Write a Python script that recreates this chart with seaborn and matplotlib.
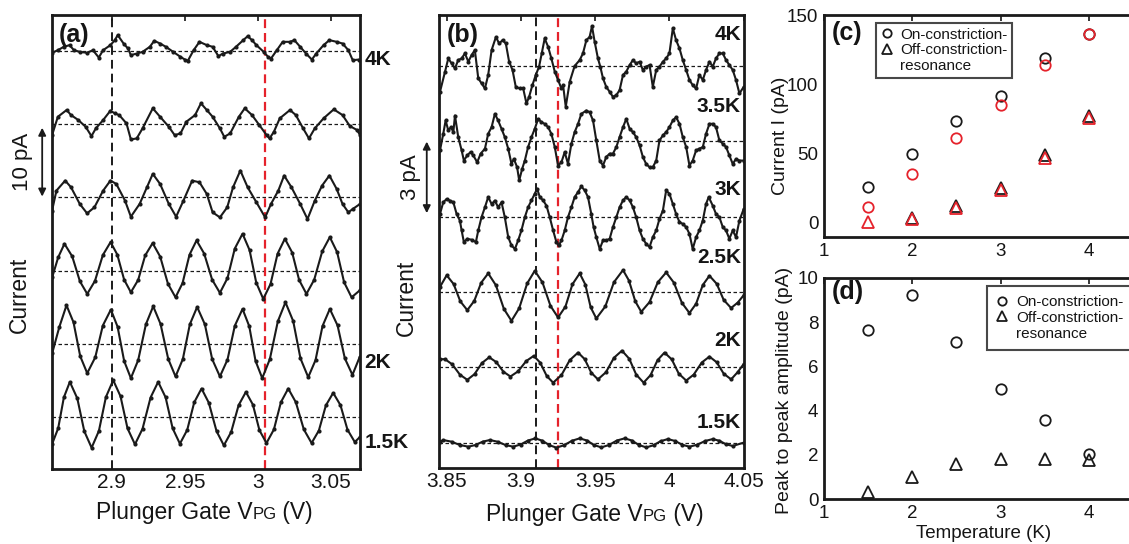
import numpy as np
import matplotlib
matplotlib.use("Agg")
import matplotlib.pyplot as plt
import matplotlib.transforms as mtransforms
from matplotlib.lines import Line2D
from matplotlib.offsetbox import TextArea, HPacker, AnchoredOffsetbox
import seaborn as sns

# ---------------- panel (a): plunger gate sweep 2.86 - 3.07 V ----------------
a4k_v = [2.859, 2.863, 2.867, 2.871, 2.874, 2.878, 2.883, 2.887, 2.891, 2.894, 2.899, 2.902, 2.904, 2.908,
         2.911, 2.913, 2.917, 2.921, 2.926, 2.929, 2.933, 2.937, 2.942, 2.947, 2.950, 2.952, 2.956, 2.960,
         2.965, 2.969, 2.973, 2.976, 2.981, 2.985, 2.990, 2.993, 2.996, 2.999, 3.004, 3.007, 3.009, 3.013,
         3.017, 3.022, 3.025, 3.029, 3.033, 3.037, 3.040, 3.045, 3.049, 3.054, 3.058, 3.062, 3.065, 3.069]
a4k_i = [-0.27, 0.09, 0.55, 0.78, 0.09, -0.14, -0.27, 0.09, -0.91, 0.09, 0.78, 1.46, 2.15, 1.0,
         0.32, -0.59, -0.37, -0.14, 0.55, 1.37, 1.0, 0.55, -0.14, -0.82, -1.19, -1.37, 0.09, 1.23,
         0.78, 0.55, -0.73, -0.37, -0.14, 0.55, 1.46, 2.0, 1.46, 0.78, -0.14, -0.82, -1.05, 0.09,
         1.23, 1.23, 1.46, 0.55, -0.37, -1.19, -0.37, 0.78, 1.46, 1.23, 1.0, 0.09, -1.28, -1.19]

a35k_v = [2.859, 2.863, 2.869, 2.872, 2.877, 2.882, 2.886, 2.889, 2.894, 2.899, 2.902, 2.905, 2.910, 2.913,
          2.917, 2.921, 2.928, 2.933, 2.939, 2.943, 2.947, 2.951, 2.957, 2.961, 2.965, 2.969, 2.974, 2.977,
          2.981, 2.987, 2.991, 2.996, 3.001, 3.006, 3.008, 3.011, 3.015, 3.022, 3.026, 3.031, 3.035, 3.039,
          3.045, 3.052, 3.058, 3.063, 3.068, 3.070]
a35k_i = [-1.51, 1.0, 1.92, 1.23, 0.55, -0.37, -1.64, -0.59, 0.55, 1.83, 1.46, 1.23, 0.09, -2.1,
          -1.96, -0.59, 2.15, 1.0, -0.37, -1.51, -1.28, 0.32, 1.23, 2.83, 1.92, 1.0, -0.59, -1.74,
          -1.28, 1.0, 2.15, 1.23, -0.14, -1.51, -1.96, -1.05, 0.78, 1.92, 1.23, -0.59, -1.96, -0.59,
          0.78, 2.01, 1.23, -0.27, -0.82, -1.51]

a3k_v = [2.859, 2.862, 2.868, 2.872, 2.878, 2.883, 2.888, 2.894, 2.899, 2.903, 2.909, 2.913, 2.919, 2.924,
         2.928, 2.933, 2.939, 2.944, 2.949, 2.955, 2.960, 2.965, 2.969, 2.974, 2.979, 2.983, 2.988, 2.993,
         2.999, 3.005, 3.009, 3.014, 3.018, 3.023, 3.029, 3.034, 3.039, 3.044, 3.049, 3.054, 3.058, 3.062,
         3.065, 3.070]
a3k_i = [-1.83, 0.91, 2.28, 1.37, -0.91, -2.19, -1.37, 0.91, 2.28, 1.83, -0.46, -2.65, -0.91, 1.37,
         3.2, 1.83, -0.91, -2.65, -0.46, 2.28, 2.05, 0.46, -2.05, -2.74, -1.37, 1.37, 3.65, 1.37,
         -0.68, -2.74, -0.91, 0.91, 2.97, 1.37, -0.91, -2.97, -0.46, 1.6, 2.97, 1.14, -0.91, -2.05,
         -1.6, -0.91]

a25k_v = [2.8591, 2.8632, 2.8675, 2.8728, 2.8781, 2.8831, 2.8884, 2.8938, 2.8991, 2.9037, 2.9084, 2.9130,
          2.9180, 2.9228, 2.9279, 2.9331, 2.9384, 2.9436, 2.9484, 2.9532, 2.9580, 2.9632, 2.9687, 2.9740,
          2.9792, 2.9842, 2.9895, 2.9943, 2.9989, 3.0037, 3.0087, 3.0135, 3.0185, 3.0235, 3.0283, 3.0333,
          3.0386, 3.0441, 3.0493, 3.0543, 3.0591, 3.0642, 3.0699]
a25k_i = [-0.92, 1.8, 3.65, 1.94, -1.48, -3.19, -1.42, 2.11, 3.88, 2.17, -1.26, -2.97,
          -1.29, 2.06, 3.74, 1.89, -1.81, -3.66, -1.72, 2.17, 4.11, 2.32, -1.26, -3.05,
          -1.03, 3.0, 5.02, 2.8, -1.66, -3.88, -1.83, 2.29, 4.34, 2.46, -1.31, -3.19,
          -1.25, 2.62, 4.56, 2.51, -1.61, -3.66, -2.7]

a2k_v = [2.8591, 2.8640, 2.8689, 2.8737, 2.8783, 2.8831, 2.8886, 2.8938, 2.8993, 2.9039, 2.9084, 2.9130,
         2.9180, 2.9233, 2.9283, 2.9333, 2.9386, 2.9436, 2.9486, 2.9534, 2.9584, 2.9637, 2.9687, 2.9740,
         2.9792, 2.9842, 2.9895, 2.9941, 2.9984, 3.0030, 3.0082, 3.0137, 3.0189, 3.0242, 3.0292, 3.0345,
         3.0395, 3.0443, 3.0493, 3.0546, 3.0596, 3.0648, 3.0699]
a2k_i = [-1.28, 2.3, 5.25, 2.93, -1.70, -4.02, -1.85, 2.49, 4.66, 2.32, -2.36, -4.70,
         -2.25, 2.66, 5.11, 2.72, -2.08, -4.47, -2.10, 2.65, 5.02, 2.65, -2.10, -4.47,
         -2.17, 2.45, 4.75, 2.39, -2.34, -4.70, -2.11, 3.07, 5.66, 3.10, -2.01, -4.57,
         -2.24, 2.42, 4.75, 2.5, -2.0, -4.25, -1.74]

a15k_v = [2.8591, 2.8632, 2.8671, 2.8712, 2.8763, 2.8811, 2.8861, 2.8911, 2.8959, 2.9009, 2.9059, 2.9107,
          2.9158, 2.9210, 2.9265, 2.9317, 2.9368, 2.9416, 2.9466, 2.9516, 2.9564, 2.9614, 2.9664, 2.9717,
          2.9767, 2.9817, 2.9868, 2.9918, 2.9966, 3.0011, 3.0059, 3.0110, 3.0158, 3.0208, 3.0260, 3.0315,
          3.0368, 3.0418, 3.0466, 3.0516, 3.0566, 3.0614, 3.0664, 3.0699]
a15k_i = [-3.65, -1.54, 2.68, 4.79, 2.54, -1.95, -4.20, -1.90, 2.72, 5.02, 2.83, -1.55,
          -3.74, -1.61, 2.66, 4.79, 2.68, -1.54, -3.65, -1.77, 2.0, 3.88, 1.94, -1.94,
          -3.88, -2.06, 1.6, 3.42, 1.68, -1.82, -3.56, -1.70, 2.02, 3.88, 2.02, -1.70,
          -3.56, -1.85, 1.58, 3.29, 1.61, -1.74, -3.42, -2.74]

a_offsets = [57.1, 47.1, 37.1, 27.1, 17.1, 7.1]   # pA, 4K on top
a_lines = [2.9, 3.005]

# ---------------- panel (b): plunger gate sweep 3.845 - 4.05 V ----------------
b4k_v = [3.8453, 3.8487, 3.8509, 3.8531, 3.8554, 3.8576, 3.8599, 3.8621, 3.8644, 3.8666, 3.8688, 3.8711,
         3.8733, 3.8756, 3.8778, 3.8801, 3.8830, 3.8852, 3.8875, 3.8897, 3.8919, 3.8942, 3.8964, 3.8991,
         3.9014, 3.9036, 3.9054, 3.9076, 3.9099, 3.9121, 3.9139, 3.9159, 3.9182, 3.9204, 3.9227, 3.9249,
         3.9272, 3.9283, 3.9301, 3.9328, 3.9361, 3.9395, 3.9417, 3.9440, 3.9462, 3.9478, 3.9496, 3.9518,
         3.9534, 3.9552, 3.9574, 3.9597, 3.9619, 3.9642, 3.9664, 3.9687, 3.9709, 3.9732, 3.9754, 3.9776,
         3.9799, 3.9821, 3.9843, 3.9866, 3.9888, 3.9911, 3.9933, 3.9956, 3.9978, 4.0000, 4.0023, 4.0045,
         4.0068, 4.0090, 4.0113, 4.0135, 4.0157, 4.0180, 4.0202, 4.0225, 4.0247, 4.0270, 4.0292, 4.0314,
         4.0337, 4.0360, 4.0382, 4.0404, 4.0427, 4.0449, 4.0472, 4.0501]
b4k_i = [-1.10, -0.25, 0.31, 0.10, -0.11, 0.24, 0.31, 0.52, 0.17, 0.45, 0.66, -0.53,
         -0.74, -0.96, -0.39, 0.66, 1.21, 0.94, 1.08, 0.94, 0.17, -0.18, -0.89, -0.96,
         -0.96, -1.59, -1.31, -0.82, -0.39, -0.04, 0.52, 1.15, 0.80, 0.31, -0.25, -0.60,
         -0.96, -0.82, -1.73, -0.67, -0.01, 0.24, 0.52, 1.08, 1.22, 1.67, 1.01, 0.31,
         -0.04, -0.53, -0.89, -1.10, -1.31, -1.24, -1.03, -0.39, -0.25, 0.03, 0.24, 0.10,
         0.17, -0.18, -0.04, 0.03, -0.89, -0.18, -0.04, 0.17, 0.31, 0.52, 1.58, 1.08,
         0.73, 0.24, -0.18, -0.60, -0.82, -0.96, -0.39, -0.60, -0.18, 0.17, -0.04, 0.31,
         0.52, 0.52, 0.24, 0.03, -0.18, -0.60, -1.17, -0.89]

b35k_v = [3.8453, 3.8475, 3.8491, 3.8509, 3.8527, 3.8543, 3.8554, 3.8576, 3.8599, 3.8614, 3.8637, 3.8659,
          3.8677, 3.8704, 3.8727, 3.8756, 3.8778, 3.8801, 3.8823, 3.8845, 3.8868, 3.8890, 3.8913, 3.8935,
          3.8951, 3.8973, 3.8987, 3.9007, 3.9025, 3.9047, 3.9070, 3.9092, 3.9115, 3.9137, 3.9159, 3.9182,
          3.9204, 3.9227, 3.9249, 3.9272, 3.9294, 3.9316, 3.9339, 3.9361, 3.9384, 3.9406, 3.9440, 3.9462,
          3.9485, 3.9507, 3.9530, 3.9552, 3.9574, 3.9597, 3.9619, 3.9642, 3.9664, 3.9687, 3.9709, 3.9732,
          3.9754, 3.9776, 3.9799, 3.9821, 3.9843, 3.9866, 3.9888, 3.9911, 3.9933, 3.9956, 3.9978, 4.0000,
          4.0023, 4.0045, 4.0068, 4.0090, 4.0113, 4.0135, 4.0157, 4.0180, 4.0202, 4.0225, 4.0247, 4.0270,
          4.0292, 4.0314, 4.0337, 4.0360, 4.0382, 4.0404, 4.0427, 4.0449, 4.0472, 4.0501]
b35k_i = [-0.39, 0.31, 0.87, 0.45, 0.59, 0.38, 1.08, 0.17, -0.39, -0.82, -0.60, -0.46,
          -0.60, -0.89, -0.53, -0.32, 0.31, 0.59, 1.15, 0.87, 0.52, 0.17, -0.32, -0.96,
          -0.75, -1.10, -1.66, -1.17, -0.82, -0.25, 0.17, 0.52, 0.94, 0.80, 0.73, 0.59,
          0.31, -0.25, -1.03, -0.89, -0.46, -0.96, -0.11, 0.38, 0.73, 1.15, 1.29, 1.22,
          0.87, 0.03, -0.82, -1.03, -0.67, -0.53, -0.53, -0.25, 0.17, 0.59, 0.94, 0.52,
          0.38, 0.17, -0.18, -0.67, -0.96, -1.10, -1.10, -0.82, 0.03, 0.24, 0.38, 0.59,
          0.87, 1.01, 0.73, 0.17, -0.25, -1.03, -0.82, -0.39, -0.32, -0.25, 0.31, 0.73,
          0.73, 0.59, 0.03, -0.11, -0.25, -0.60, -0.96, -0.75, -0.82, -0.82]

b3k_v = [3.8453, 3.8475, 3.8498, 3.8520, 3.8543, 3.8565, 3.8587, 3.8599, 3.8614, 3.8637, 3.8666, 3.8695,
         3.8711, 3.8733, 3.8756, 3.8778, 3.8801, 3.8823, 3.8845, 3.8868, 3.8890, 3.8913, 3.8935, 3.8958,
         3.8980, 3.9002, 3.9025, 3.9047, 3.9070, 3.9092, 3.9108, 3.9126, 3.9148, 3.9171, 3.9193, 3.9216,
         3.9238, 3.9254, 3.9272, 3.9294, 3.9316, 3.9339, 3.9361, 3.9384, 3.9406, 3.9429, 3.9451, 3.9473,
         3.9489, 3.9507, 3.9530, 3.9552, 3.9574, 3.9597, 3.9619, 3.9642, 3.9664, 3.9687, 3.9709, 3.9732,
         3.9754, 3.9776, 3.9799, 3.9821, 3.9843, 3.9866, 3.9888, 3.9911, 3.9933, 3.9956, 3.9978, 4.0000,
         4.0023, 4.0045, 4.0068, 4.0090, 4.0113, 4.0135, 4.0157, 4.0180, 4.0202, 4.0225, 4.0247, 4.0265,
         4.0292, 4.0314, 4.0337, 4.0360, 4.0382, 4.0404, 4.0427, 4.0449, 4.0472, 4.0501]
b3k_i = [0.11, 0.60, 0.74, 0.67, 0.60, 0.11, -0.17, -0.59, -1.08, -0.94, -0.98, -1.08,
         -0.59, -0.03, 0.39, 0.82, 0.53, 0.67, 0.39, 0.60, -0.03, -0.87, -1.22, -1.37,
         -1.01, -0.59, -0.03, 0.39, 0.68, 0.96, 1.17, 0.82, 0.68, 0.46, -0.03, -0.59,
         -1.08, -1.22, -1.01, -0.59, -0.03, 0.39, 0.82, 1.03, 1.27, 1.10, 0.82, 0.11,
         -0.45, -0.87, -1.37, -1.01, -1.01, -0.94, -0.45, -0.03, 0.39, 0.68, 0.82, 0.68,
         0.39, -0.03, -0.59, -0.94, -1.15, -1.29, -0.87, -0.59, -0.10, 0.25, 1.10, 0.96,
         0.53, 0.11, -0.24, -0.31, -0.45, -0.73, -1.37, -0.87, -0.59, -0.17, 0.53, 0.82,
         0.46, 0.11, -0.03, -0.45, -0.59, -0.94, -0.59, -0.87, -0.17, 0.32]

b25k_v = [3.8453, 3.8498, 3.8545, 3.8590, 3.8637, 3.8684, 3.8731, 3.8778, 3.8830, 3.8884, 3.8935, 3.8987,
          3.9041, 3.9092, 3.9144, 3.9198, 3.9249, 3.9299, 3.9346, 3.9395, 3.9433, 3.9469, 3.9507, 3.9568,
          3.9626, 3.9687, 3.9727, 3.9770, 3.9810, 3.9866, 3.9922, 3.9978, 4.0030, 4.0084, 4.0135, 4.0180,
          4.0225, 4.0270, 4.0319, 4.0366, 4.0416, 4.0461, 4.0501]
b25k_i = [0.21, 0.70, 0.33, -0.40, -0.77, -0.38, 0.39, 0.78, 0.28, -0.72, -1.22, -0.69,
          0.36, 0.89, 0.40, -0.59, -1.08, -0.62, 0.32, 0.78, 0.31, -0.65, -1.12, -0.61,
          0.41, 0.92, 0.48, -0.40, -0.84, -0.43, 0.41, 0.82, 0.39, -0.46, -0.89, -0.50,
          0.29, 0.68, 0.34, -0.34, -0.68, -0.45, -0.14]

b2k_v = [3.8453, 3.8487, 3.8536, 3.8587, 3.8637, 3.8686, 3.8736, 3.8785, 3.8832, 3.8881, 3.8928, 3.8980,
         3.9034, 3.9085, 3.9128, 3.9173, 3.9216, 3.9272, 3.9328, 3.9384, 3.9429, 3.9473, 3.9518, 3.9572,
         3.9626, 3.9680, 3.9729, 3.9776, 3.9826, 3.9873, 3.9920, 3.9967, 4.0016, 4.0063, 4.0113, 4.0164,
         4.0218, 4.0270, 4.0319, 4.0366, 4.0416, 4.0461, 4.0501]
b2k_i = [0.34, 0.34, 0.12, -0.31, -0.53, -0.29, 0.18, 0.42, 0.22, -0.19, -0.39, -0.17,
         0.26, 0.48, 0.20, -0.37, -0.65, -0.33, 0.30, 0.62, 0.34, -0.23, -0.51, -0.21,
         0.40, 0.70, 0.36, -0.31, -0.65, -0.33, 0.30, 0.62, 0.33, -0.27, -0.56, -0.31,
         0.20, 0.45, 0.21, -0.27, -0.51, -0.20, 0.14]

b15k_v = [3.8453, 3.8475, 3.8531, 3.8587, 3.8644, 3.8693, 3.8740, 3.8789, 3.8841, 3.8895, 3.8946, 3.8996,
          3.9047, 3.9096, 3.9144, 3.9191, 3.9238, 3.9290, 3.9343, 3.9395, 3.9444, 3.9491, 3.9541, 3.9592,
          3.9646, 3.9698, 3.9747, 3.9794, 3.9844, 3.9893, 3.9940, 3.9989, 4.0039, 4.0086, 4.0135, 4.0187,
          4.0241, 4.0292, 4.0337, 4.0382, 4.0427, 4.0501]
b15k_i = [0.04, 0.11, 0.04, -0.10, -0.17, -0.10, 0.04, 0.11, 0.04, -0.10, -0.17, -0.08,
          0.09, 0.18, 0.08, -0.11, -0.21, -0.11, 0.08, 0.18, 0.09, -0.10, -0.20, -0.10,
          0.09, 0.18, 0.09, -0.10, -0.20, -0.11, 0.06, 0.15, 0.07, -0.09, -0.17, -0.09,
          0.07, 0.15, 0.08, -0.07, -0.14, 0.0]

b_offsets = [16.97, 13.79, 10.61, 7.43, 4.25, 1.07]   # pA, 4K on top
b_lines = [3.91, 3.925]
b_labels = ["4K", "3.5K", "3K", "2.5K", "2K", "1.5K"]
b_label_y = [18.27, 15.27, 11.77, 8.90, 5.40, 1.94]

# ---------------- panels (c), (d): temperature dependence ----------------
temps = [1.5, 2.0, 2.5, 3.0, 3.5, 4.0]
c_on_black = [25.5, 49.3, 73.2, 91.8, 118.6, 136.3]
c_on_red = [11.2, 34.8, 61.0, 85.0, 113.7, 136.0]
c_off_temps = [2.0, 2.5, 3.0, 3.5, 4.0]
c_off_black = [3.2, 11.7, 25.0, 48.6, 77.3]
c_off_red = [0.3, 2.5, 10.5, 23.5, 47.0, 75.5]
d_on = [7.66, 9.21, 7.10, 4.98, 3.59, 2.05]
d_off = [0.32, 0.98, 1.58, 1.82, 1.80, 1.77]

# ---------------- style ----------------
sns.set_theme(style="white")
plt.rcParams["font.family"] = ["Liberation Sans", "DejaVu Sans"]
INK = "#151515"
RED = "#e5222b"

fig = plt.figure(figsize=(11.29, 5.44), dpi=100)
ax_a = fig.add_axes([0.0461, 0.1379, 0.2728, 0.8346])
ax_b = fig.add_axes([0.3888, 0.1397, 0.2702, 0.8327])
ax_c = fig.add_axes([0.7298, 0.5643, 0.2737, 0.4081])
ax_d = fig.add_axes([0.7298, 0.0827, 0.2737, 0.4063])

for ax in (ax_a, ax_b, ax_c, ax_d):
    for sp in ax.spines.values():
        sp.set_linewidth(2.0)
        sp.set_color("k")


def draw_traces(ax, traces, offsets):
    for (v, i), off in zip(traces, offsets):
        ax.axhline(off, color="k", lw=0.9, ls=(0, (2.8, 2)), zorder=1)
        sns.lineplot(x=v, y=np.asarray(i) + off, ax=ax, color="k", lw=1.5,
                     marker="o", markersize=3.0, markeredgewidth=0, markeredgecolor="k",
                     estimator=None, sort=False, zorder=3)


def gate_label(ax, x, y):
    parts = [TextArea("Plunger Gate V", textprops=dict(fontsize=16.5, color=INK)),
             TextArea("PG", textprops=dict(fontsize=12, color=INK)),
             TextArea(" (V)", textprops=dict(fontsize=16.5, color=INK))]
    box = HPacker(children=parts, align="baseline", pad=0, sep=0)
    anch = AnchoredOffsetbox(loc="center", child=box, pad=0, borderpad=0, frameon=False,
                             bbox_to_anchor=(x, y), bbox_transform=ax.transAxes)
    fig.add_artist(anch)


def scale_bar(ax, x_arrow, y0, y1, x_text, text):
    ax.annotate("", xy=(x_arrow, y1), xytext=(x_arrow, y0),
                xycoords=("axes fraction", "data"), textcoords=("axes fraction", "data"),
                arrowprops=dict(arrowstyle="<|-|>", color="k", lw=1.3, mutation_scale=11,
                                shrinkA=0, shrinkB=0),
                annotation_clip=False)
    tr = mtransforms.blended_transform_factory(ax.transAxes, ax.transData)
    ax.text(x_text, (y0 + y1) / 2, text, transform=tr, rotation=90, ha="center", va="center",
            fontsize=16, color=INK, clip_on=False)


# ---- (a) ----
draw_traces(ax_a, [(a4k_v, a4k_i), (a35k_v, a35k_i), (a3k_v, a3k_i),
                   (a25k_v, a25k_i), (a2k_v, a2k_i), (a15k_v, a15k_i)], a_offsets)
ax_a.axvline(a_lines[0], color="k", lw=1.4, ls=(0, (4.5, 2.6)), zorder=2)
ax_a.axvline(a_lines[1], color=RED, lw=1.6, ls=(0, (4.0, 2.2)), zorder=2)
ax_a.set_xlim(2.859, 3.070)
ax_a.set_ylim(0, 62.0)
ax_a.set_xticks([2.9, 2.95, 3.0, 3.05])
ax_a.set_xticklabels(["2.9", "2.95", "3", "3.05"])
ax_a.set_yticks([])
ax_a.set_xlabel("")
ax_a.set_ylabel("")
ax_a.tick_params(axis="x", direction="in", top=True, length=4, width=1.3,
                 labelsize=15, labelcolor=INK, pad=3)
tr_a = mtransforms.blended_transform_factory(ax_a.transAxes, ax_a.transData)
for lab, yy in zip(["4K", "2K", "1.5K"], [55.9, 14.5, 3.55]):
    ax_a.text(1.015, yy, lab, transform=tr_a, ha="left", va="center", fontsize=15,
              fontweight="bold", color=INK, clip_on=False)
ax_a.text(0.022, 0.956, "(a)", transform=ax_a.transAxes, ha="left", va="center",
          fontsize=18, fontweight="bold", color=INK, zorder=5)
scale_bar(ax_a, -0.032, 37.2, 46.6, -0.097, "10 pA")
ax_a.text(-0.107, 0.383, "Current", transform=ax_a.transAxes, rotation=90, ha="center",
          va="center", fontsize=16.5, color=INK)
gate_label(ax_a, 0.494, -0.095)

# ---- (b) ----
draw_traces(ax_b, [(b4k_v, b4k_i), (b35k_v, b35k_i), (b3k_v, b3k_i),
                   (b25k_v, b25k_i), (b2k_v, b2k_i), (b15k_v, b15k_i)], b_offsets)
ax_b.axvline(b_lines[0], color="k", lw=1.4, ls=(0, (4.5, 2.6)), zorder=2)
ax_b.axvline(b_lines[1], color=RED, lw=1.6, ls=(0, (4.0, 2.2)), zorder=2)
ax_b.set_xlim(3.8446, 4.0503)
ax_b.set_ylim(0, 19.11)
ax_b.set_xticks([3.85, 3.9, 3.95, 4.0, 4.05])
ax_b.set_xticklabels(["3.85", "3.9", "3.95", "4", "4.05"])
ax_b.set_yticks([])
ax_b.set_xlabel("")
ax_b.set_ylabel("")
ax_b.tick_params(axis="x", direction="in", top=True, length=4, width=1.3,
                 labelsize=15, labelcolor=INK, pad=3)
tr_b = mtransforms.blended_transform_factory(ax_b.transAxes, ax_b.transData)
for lab, yy in zip(b_labels, b_label_y):
    ax_b.text(0.99, yy, lab, transform=tr_b, ha="right", va="center", fontsize=15,
              fontweight="bold", color=INK, zorder=5)
ax_b.text(0.026, 0.956, "(b)", transform=ax_b.transAxes, ha="left", va="center",
          fontsize=18, fontweight="bold", color=INK, zorder=5)
scale_bar(ax_b, -0.040, 10.75, 13.77, -0.092, "3 pA")
ax_b.text(-0.108, 0.375, "Current", transform=ax_b.transAxes, rotation=90, ha="center",
          va="center", fontsize=16.5, color=INK)
gate_label(ax_b, 0.511, -0.103)

# ---- (c) ----
mk = dict(estimator=None, sort=False, linestyle="", markerfacecolor="none", markeredgewidth=1.3)
sns.lineplot(x=temps, y=c_on_black, ax=ax_c, marker="o", markersize=7.5, markeredgecolor="k",
             color="k", **mk)
sns.lineplot(x=c_off_temps, y=c_off_black, ax=ax_c, marker="^", markersize=8, markeredgecolor="k",
             color="k", **mk)
sns.lineplot(x=temps, y=c_on_red, ax=ax_c, marker="o", markersize=7.5, markeredgecolor=RED,
             color=RED, **mk)
sns.lineplot(x=temps, y=c_off_red, ax=ax_c, marker="^", markersize=8, markeredgecolor=RED,
             color=RED, **mk)
ax_c.set_xlim(1, 4.5)
ax_c.set_ylim(-10.4, 150)
ax_c.set_xticks([1, 2, 3, 4])
ax_c.set_yticks([0, 50, 100, 150])
ax_c.set_xlabel("")
ax_c.set_ylabel("")
ax_c.tick_params(direction="in", top=True, right=False, length=4, width=1.3,
                 labelsize=13.5, labelcolor=INK, pad=4)
ax_c.text(-0.142, 0.455, "Current I (pA)", transform=ax_c.transAxes, rotation=90,
          ha="center", va="center", fontsize=14, color=INK)
ax_c.text(0.026, 0.919, "(c)", transform=ax_c.transAxes, ha="left", va="center",
          fontsize=18, fontweight="bold", color=INK)

# ---- (d) ----
sns.lineplot(x=temps, y=d_on, ax=ax_d, marker="o", markersize=7.5, markeredgecolor="k",
             color="k", **mk)
sns.lineplot(x=temps, y=d_off, ax=ax_d, marker="^", markersize=8, markeredgecolor="k",
             color="k", **mk)
ax_d.set_xlim(1, 4.5)
ax_d.set_ylim(0, 10)
ax_d.set_xticks([1, 2, 3, 4])
ax_d.set_yticks([0, 2, 4, 6, 8, 10])
ax_d.set_xlabel("")
ax_d.set_ylabel("")
ax_d.tick_params(direction="in", top=True, right=False, length=4, width=1.3,
                 labelsize=13.5, labelcolor=INK, pad=4)
ax_d.text(-0.129, 0.493, "Peak to peak amplitude (pA)", transform=ax_d.transAxes, rotation=90,
          ha="center", va="center", fontsize=14, color=INK)
ax_d.text(0.515, -0.154, "Temperature (K)", transform=ax_d.transAxes, ha="center",
          va="center", fontsize=13.5, color=INK)
ax_d.text(0.026, 0.938, "(d)", transform=ax_d.transAxes, ha="left", va="center",
          fontsize=18, fontweight="bold", color=INK)

# legends for (c) and (d)
handles = [Line2D([], [], ls="", marker="o", mfc="none", mec="k", ms=6, mew=1.3),
           Line2D([], [], ls="", marker="^", mfc="none", mec="k", ms=6.5, mew=1.3),
           Line2D([], [], ls="", marker="")]
labels = ["On-constriction-", "Off-constriction-", "resonance"]
for ax, anchor, pad in ((ax_c, (0.168, 0.964), 0.3), (ax_d, (0.527, 0.965), 0.6)):
    leg = ax.legend(handles, labels, loc="upper left", bbox_to_anchor=anchor, frameon=True,
                    fancybox=False, edgecolor="k", fontsize=11, handlelength=0.8,
                    handletextpad=0.5, labelspacing=0.12, borderpad=pad, borderaxespad=0)
    leg.get_frame().set_linewidth(1.5)
    for t in leg.get_texts():
        t.set_color(INK)

fig.savefig("out.png", dpi=100)
